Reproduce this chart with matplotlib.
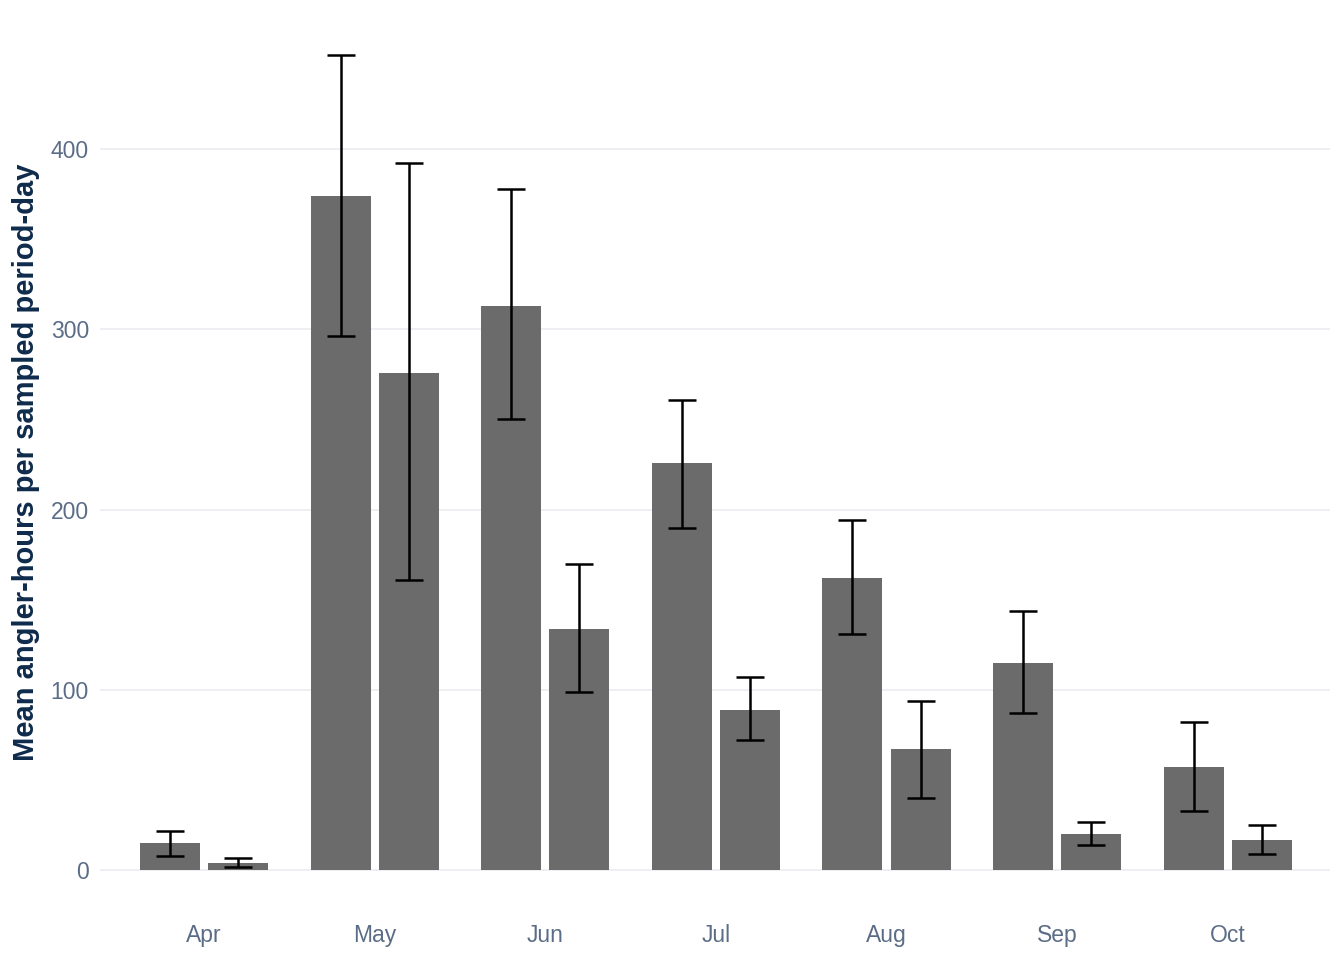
import numpy as np
import matplotlib
matplotlib.use("Agg")
import matplotlib.pyplot as plt

plt.rcParams["font.family"] = ["Liberation Sans", "DejaVu Sans"]

# Data
months = ["Apr", "May", "Jun", "Jul", "Aug", "Sep", "Oct"]
mean_a = [15, 374, 313, 226, 162, 115, 57]
low_a = [8, 296, 250, 190, 131, 87, 33]
high_a = [22, 452, 378, 261, 194, 144, 82]
mean_b = [4, 276, 134, 89, 67, 20, 17]
low_b = [2, 161, 99, 72, 40, 14, 9]
high_b = [7, 392, 170, 107, 94, 27, 25]

bar_color = "#6b6b6b"
tick_color = "#5b6d86"
title_color = "#0f2b4c"
grid_color = "#eceef1"

fig = plt.figure(figsize=(13.44, 9.6), dpi=100)
ax = fig.add_axes([0.0744, 0.051, 0.9152, 0.934])

x = np.arange(len(months))
width = 0.352
off = 0.2

for means, lows, highs, dx in [(mean_a, low_a, high_a, -off), (mean_b, low_b, high_b, off)]:
    means = np.array(means)
    yerr = [means - np.array(lows), np.array(highs) - means]
    ax.bar(x + dx, means, width=width, color=bar_color, zorder=2)
    ax.errorbar(x + dx, means, yerr=yerr, fmt="none", ecolor="black",
                elinewidth=1.8, capsize=10, capthick=1.8, zorder=3)

ax.set_xlim(-0.61, 6.6)
ax.set_ylim(-22.6, 474.6)
ax.set_xticks(x)
ax.set_xticklabels(months)
ax.set_yticks([0, 100, 200, 300, 400])
ax.tick_params(axis="both", length=0, labelsize=16.5, colors=tick_color)
ax.tick_params(axis="x", pad=9)
ax.tick_params(axis="y", pad=8)
ax.grid(axis="y", color=grid_color, linewidth=1.3, zorder=0)
ax.set_axisbelow(True)
for s in ax.spines.values():
    s.set_visible(False)

ax.set_ylabel("Mean angler-hours per sampled period-day", fontsize=21,
              fontweight="bold", color=title_color, labelpad=8)

plt.savefig("out.png", dpi=100)
